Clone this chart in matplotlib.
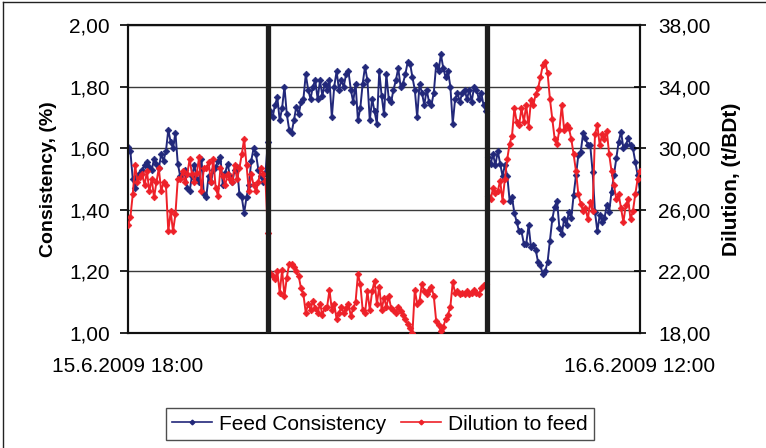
import numpy as np
import matplotlib
matplotlib.use("Agg")
import matplotlib.pyplot as plt
from matplotlib.lines import Line2D

plt.rcParams['font.family'] = ['Liberation Sans', 'DejaVu Sans']

# ---- data (5-minute samples from 15.6.2009 18:00 to 16.6.2009 12:00) ----
sample_step_min = 5
x_labels = ["15.6.2009 18:00", "16.6.2009 12:00"]
phase_changes_h = [4.92, 12.62]   # thick vertical markers (hours after start)

feed_consistency = [
    # 18:00 - 22:50
    1.605, 1.59, 1.50, 1.47, 1.51, 1.52, 1.53, 1.545, 1.555, 1.54,
    1.53, 1.565, 1.55, 1.535, 1.58, 1.56, 1.59, 1.66, 1.62, 1.60,
    1.65, 1.55, 1.51, 1.52, 1.53, 1.47, 1.46, 1.51, 1.545, 1.50,
    1.49, 1.565, 1.45, 1.44, 1.51, 1.49, 1.53, 1.54, 1.56, 1.57,
    1.48, 1.52, 1.55, 1.51, 1.49, 1.53, 1.54, 1.45, 1.44, 1.39,
    1.44, 1.48, 1.56, 1.60, 1.58, 1.53, 1.51, 1.49, 1.52,
    1.62,
    # 23:00 - 06:35
    1.72, 1.70, 1.74, 1.765, 1.69, 1.73, 1.80, 1.71, 1.66, 1.65,
    1.69, 1.735, 1.71, 1.75, 1.76, 1.84, 1.79, 1.76, 1.80, 1.82,
    1.76, 1.82, 1.77, 1.81, 1.79, 1.82, 1.70, 1.80, 1.85, 1.79,
    1.82, 1.80, 1.84, 1.85, 1.79, 1.75, 1.81, 1.69, 1.73, 1.81,
    1.865, 1.82, 1.69, 1.76, 1.72, 1.68, 1.85, 1.77, 1.71, 1.84,
    1.76, 1.75, 1.79, 1.82, 1.86, 1.80, 1.81, 1.84, 1.88, 1.875,
    1.83, 1.79, 1.70, 1.81, 1.78, 1.74, 1.79, 1.75, 1.74, 1.78,
    1.87, 1.85, 1.905, 1.86, 1.83, 1.85, 1.80, 1.68, 1.76, 1.78,
    1.75, 1.78, 1.79, 1.76, 1.79, 1.75, 1.80, 1.79, 1.76, 1.78,
    1.74, 1.72,
    # 06:40 - 12:00
    1.57, 1.55, 1.58, 1.545, 1.59, 1.55, 1.51, 1.545,
    1.51, 1.43, 1.44, 1.39, 1.36, 1.33, 1.33, 1.29, 1.29, 1.35,
    1.28, 1.285, 1.27, 1.23, 1.22, 1.19, 1.20, 1.23, 1.30, 1.37,
    1.41, 1.43, 1.34, 1.32, 1.37, 1.35, 1.394, 1.372, 1.448, 1.513,
    1.578, 1.589, 1.648, 1.632, 1.61, 1.61, 1.524, 1.394, 1.33, 1.383,
    1.361, 1.372, 1.416, 1.394, 1.459, 1.513, 1.567, 1.621, 1.654, 1.60,
    1.61, 1.632, 1.61, 1.60, 1.556, 1.513, 1.459,
]

dilution_to_feed = [
    # 18:00 - 22:50
    25.0, 25.5, 27.0, 28.9, 27.8, 28.1, 28.3, 27.6, 28.5, 27.2,
    28.0, 26.8, 27.8, 28.7, 27.2, 27.8, 27.6, 24.6, 25.9, 24.6,
    25.7, 28.0, 28.0, 28.5, 27.8, 28.3, 29.3, 28.3, 27.8, 28.4,
    29.4, 27.2, 28.7, 28.7, 29.1, 27.8, 29.3, 27.4, 26.9, 28.7,
    28.2, 27.6, 28.3, 28.0, 27.8, 28.9, 28.0, 28.7, 29.6, 30.6,
    28.9, 27.2, 28.3, 27.6, 27.2, 27.8, 28.7, 28.3, 27.9,
    24.5,
    # 23:00 - 06:35
    21.9, 21.7, 21.5, 22.0, 20.6, 22.1, 20.4, 21.6, 22.5, 22.5,
    22.3, 22.0, 21.7, 20.9, 20.5, 19.3, 19.9, 19.5, 20.1, 19.6,
    19.3, 19.9, 19.2, 19.6, 19.7, 20.8, 19.5, 19.9, 18.9, 19.3,
    19.7, 19.3, 19.6, 19.9, 19.1, 19.6, 20.0, 21.8, 21.2, 19.5,
    19.3, 20.7, 19.5, 20.7, 21.4, 19.9, 21.0, 19.5, 20.3, 19.7,
    20.4, 19.6, 19.5, 19.3, 19.7, 19.4, 19.2, 18.9, 18.6, 18.3,
    18.0, 20.8, 19.9, 20.1, 21.2, 20.7, 20.5, 20.8, 21.0, 20.4,
    18.8, 18.5, 18.1, 18.4, 18.9, 19.2, 19.7, 21.3, 20.6, 20.7,
    20.5, 20.6, 20.5, 20.7, 20.5, 20.6, 20.8, 20.6, 20.5, 20.9,
    21.1, 21.2,
    # 06:40 - 12:00
    26.9, 26.7, 27.4, 27.1, 27.2, 27.9, 26.6, 28.0,
    29.3, 30.3, 30.8, 32.6, 31.7, 31.5, 32.6, 31.7, 32.8, 31.4,
    33.1, 32.8, 33.5, 33.9, 34.6, 35.4, 35.6, 34.9, 33.2, 31.9,
    30.6, 30.3, 31.2, 32.8, 31.2, 31.5, 31.3, 30.6, 29.6, 28.5,
    27.0, 26.4, 25.9, 26.1, 25.4, 26.5, 25.9, 30.9, 31.5, 30.2,
    30.9, 30.6, 31.1, 29.6, 28.5, 27.6, 26.7, 27.0, 26.1, 25.2,
    26.3, 26.7, 25.4, 25.9, 27.0, 28.0, 28.5,
]

left_ticks = [1.0, 1.2, 1.4, 1.6, 1.8, 2.0]
right_ticks = [18, 22, 26, 30, 34, 38]

hours = np.arange(len(feed_consistency)) * sample_step_min / 60.0

# ---- figure ----
W, H = 766, 448
fig = plt.figure(figsize=(W / 100, H / 100), dpi=100)
fig.patch.set_facecolor('white')

ax = fig.add_axes([128 / W, 1 - 333 / H, 512 / W, 308 / H])
ax2 = ax.twinx()

blue = '#22287A'
red = '#EE2129'

ax.plot(hours, feed_consistency, color=blue, lw=1.4, marker='D',
        markersize=3.4, markeredgewidth=0.5, zorder=3)
ax2.plot(hours, dilution_to_feed, color=red, lw=1.4, marker='D',
         markersize=3.4, markeredgewidth=0.5, zorder=3)

for xh in phase_changes_h:
    ax2.axvline(xh, color='#1E1E1E', lw=3.8, zorder=10)

ax.set_xlim(0, 18)
ax.set_ylim(1.0, 2.0)
ax2.set_ylim(18, 38)

ax.set_yticks(left_ticks)
ax.set_yticklabels([f"{v:.2f}".replace('.', ',') for v in left_ticks], fontsize=15)
ax2.set_yticks(right_ticks)
ax2.set_yticklabels([f"{v:.2f}".replace('.', ',') for v in right_ticks], fontsize=15)

ax.set_xticks([0, 18])
ax.set_xticklabels(x_labels, fontsize=15)
ax.tick_params(axis='x', length=0, pad=17)
ax.tick_params(axis='y', direction='out', length=6, width=1.2, pad=7)
ax2.tick_params(axis='y', direction='inout', length=8, width=1.2, pad=9)

ax.yaxis.grid(True, color='#3A3A3A', lw=1.0)
ax.set_axisbelow(True)

for a in (ax, ax2):
    for s in a.spines.values():
        s.set_color('#111111')
        s.set_linewidth(1.5)

ax.set_ylabel("Consistency, (%)", fontsize=14, fontweight='bold', labelpad=9)
ax2.set_ylabel("Dilution, (t/BDt)", fontsize=15, fontweight='bold', labelpad=8)

handles = [
    Line2D([], [], color=blue, lw=1.2, marker='D', markersize=2.4),
    Line2D([], [], color=red, lw=1.2, marker='D', markersize=2.4),
]
leg = fig.legend(handles, ["Feed Consistency", "Dilution to feed"],
                 loc='center', bbox_to_anchor=(380 / W, 1 - 424 / H),
                 ncol=2, fontsize=15, frameon=True, fancybox=False,
                 handlelength=1.9, handletextpad=0.35, columnspacing=0.7,
                 borderpad=0.3)
leg.get_frame().set_edgecolor('#222222')
leg.get_frame().set_linewidth(1.0)

# outer chart border
fig.add_artist(Line2D([3 / W, 3 / W], [0, 1 - 2 / H], transform=fig.transFigure,
                      color='#222222', lw=1.0))
fig.add_artist(Line2D([3 / W, 1], [1 - 2 / H, 1 - 2 / H], transform=fig.transFigure,
                      color='#222222', lw=1.0))

fig.savefig("out.png", dpi=100)
